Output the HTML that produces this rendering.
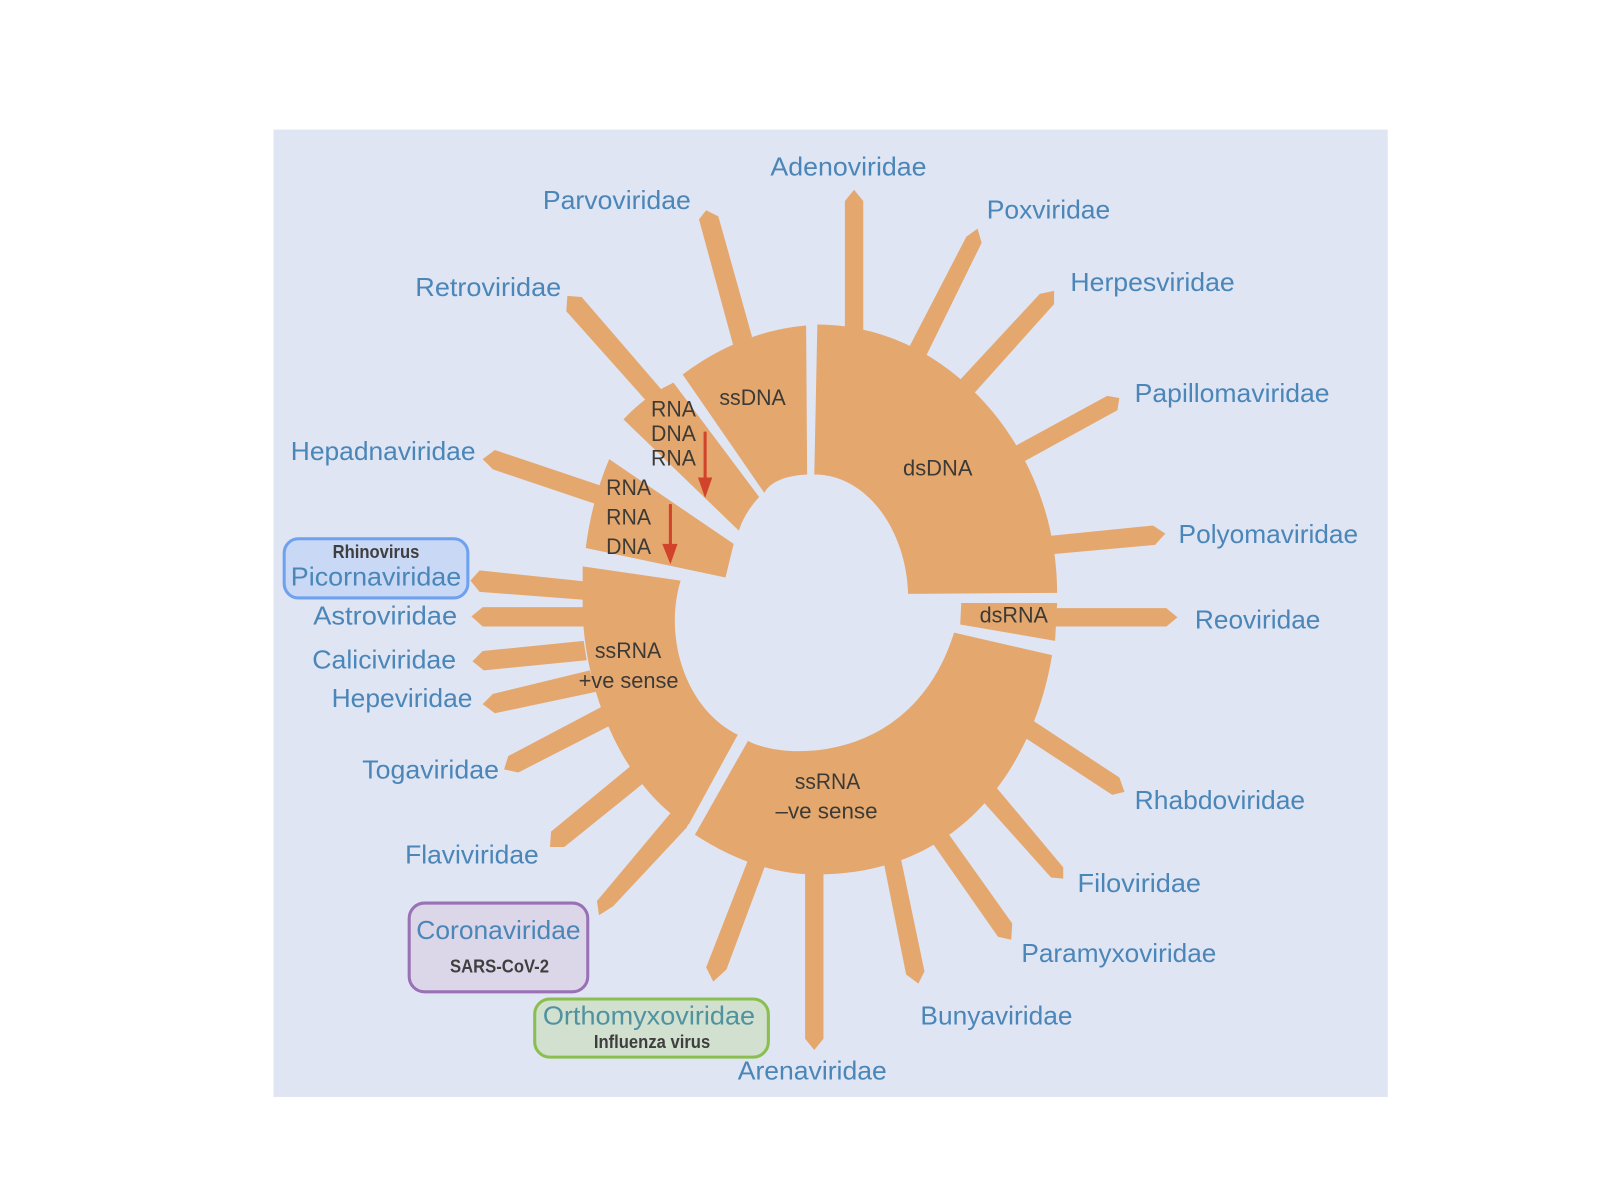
<!DOCTYPE html>
<html lang="en">
<head>
<meta charset="utf-8">
<title>Virus families by genome type</title>
<style>
html,body{margin:0;padding:0;background:#fff;width:1600px;height:1200px;overflow:hidden}
svg{display:block}
text{font-family:"Liberation Sans",sans-serif}
.l{font-size:25px;fill:#4a86b8}
.d{font-size:22px;fill:#3d3a36}
.b{font-size:18px;font-weight:bold;fill:#3f3f3f}
</style>
</head>
<body>
<svg width="1600" height="1200" viewBox="0 0 1568 1176" xmlns="http://www.w3.org/2000/svg">
<rect x="268" y="127" width="1092" height="948" fill="#e0e5f4"/>
<g fill="#e4a86f">
<polygon points="828,330 828,197 837,186 846,197 846,330"/>
<polygon points="719,340 685,215 692,206 704,212 737,330"/>
<polygon points="890,342 947,232 958,224 962,238 907,350"/>
<polygon points="941,372 1019,288 1033,285 1033,298 955,385"/>
<polygon points="995,437 1085,388 1097,390 1095,402 1004,452"/>
<polygon points="1030,525 1130,515 1142,523 1132,534 1032,543"/>
<polygon points="1030,596 1143,596 1154,605 1143,614 1030,614"/>
<polygon points="1012,706 1097,762 1102,776 1090,779 1003,722"/>
<polygon points="975,770 1042,850 1042,861 1030,860 962,784"/>
<polygon points="928,815 992,905 991,921 978,918 913,825"/>
<polygon points="883,842 906,952 900,964 888,955 866,845"/>
<polygon points="789,850 789,1018 798,1029 807,1018 807,850"/>
<polygon points="750,848 712,950 699,962 692,948 733,843"/>
<polygon points="657,797 585,883 587,897 601,888 673,811 680,795"/>
<polygon points="619,750 540,815 539,830 553,830 630,768"/>
<polygon points="589,693 498,741 494,754 508,757 598,711"/>
<polygon points="578,657 483,680 473,690 485,699 584,678"/>
<polygon points="572,628 473,638 463,648 474,657 575,647"/>
<polygon points="575,595 473,595 462,604 473,614 575,614"/>
<polygon points="575,570 470,559 461,569 470,580 575,588"/>
<polygon points="592,477 485,441 473,450 483,460 587,495"/>
<polygon points="651,385 570,291 556,290 555,305 637,397"/>
<path d="M801,318 C930,318 1036,440 1036,581 L890,582 C888,520 850,465 798,465 Z"/>
<path d="M790,319 L791,465 C770,466 755,472 749,483 L669,367 C705,340 745,323 790,319 Z"/>
<path d="M660,375 L744,487 Q730,502 724,520 L611,411 Q632,388 660,375 Z"/>
<path d="M597,450 L719,533 L711,566 L574,537 Q580,490 597,450 Z"/>
<path d="M571,555 L667,569 C650,625 672,695 723,720 L675,808 L657,797 C600,750 570,660 571,590 Z"/>
<path d="M733,726 C770,746 895,748 935,620 L1031,642 C1015,740 950,857 800,857 C755,857 715,840 681,818 Z"/>
<path d="M942,591 L1036,591 L1034,628 L941,612 Z"/>
</g>
<g fill="#d1432a">
<rect x="689.500" y="423" width="3" height="54"/>
<polygon points="684,468 698,468 691,488"/>
<rect x="655.500" y="494" width="3" height="48"/>
<polygon points="649,533 664,533 657,553"/>
</g>
<rect x="278.500" y="528" width="180" height="58" rx="14" fill="#c9d8f4" stroke="#6ea2ef" stroke-width="3"/>
<rect x="401" y="885" width="175" height="87" rx="15" fill="#dcd6e9" stroke="#9a71b5" stroke-width="3"/>
<rect x="524" y="979" width="229" height="57" rx="15" fill="#d1e0cf" stroke="#8abf4f" stroke-width="3"/>
<text class="l" x="755" y="172" textLength="153" lengthAdjust="spacingAndGlyphs">Adenoviridae</text>
<text class="l" x="532" y="205" textLength="145" lengthAdjust="spacingAndGlyphs">Parvoviridae</text>
<text class="l" x="967" y="214" textLength="121" lengthAdjust="spacingAndGlyphs">Poxviridae</text>
<text class="l" x="407" y="290" textLength="143" lengthAdjust="spacingAndGlyphs">Retroviridae</text>
<text class="l" x="1049" y="285" textLength="161" lengthAdjust="spacingAndGlyphs">Herpesviridae</text>
<text class="l" x="1112" y="394" textLength="191" lengthAdjust="spacingAndGlyphs">Papillomaviridae</text>
<text class="l" x="285" y="451" textLength="181" lengthAdjust="spacingAndGlyphs">Hepadnaviridae</text>
<text class="l" x="1155" y="532" textLength="176" lengthAdjust="spacingAndGlyphs">Polyomaviridae</text>
<text class="l" x="285" y="574" textLength="167" lengthAdjust="spacingAndGlyphs">Picornaviridae</text>
<text class="l" x="307" y="612" textLength="141" lengthAdjust="spacingAndGlyphs">Astroviridae</text>
<text class="l" x="1171" y="616" textLength="123" lengthAdjust="spacingAndGlyphs">Reoviridae</text>
<text class="l" x="306" y="655" textLength="141" lengthAdjust="spacingAndGlyphs">Caliciviridae</text>
<text class="l" x="325" y="693" textLength="138" lengthAdjust="spacingAndGlyphs">Hepeviridae</text>
<text class="l" x="355" y="763" textLength="134" lengthAdjust="spacingAndGlyphs">Togaviridae</text>
<text class="l" x="1112" y="793" textLength="167" lengthAdjust="spacingAndGlyphs">Rhabdoviridae</text>
<text class="l" x="397" y="846" textLength="131" lengthAdjust="spacingAndGlyphs">Flaviviridae</text>
<text class="l" x="1056" y="874" textLength="121" lengthAdjust="spacingAndGlyphs">Filoviridae</text>
<text class="l" x="408" y="920" textLength="161" lengthAdjust="spacingAndGlyphs">Coronaviridae</text>
<text class="l" x="1001" y="943" textLength="191" lengthAdjust="spacingAndGlyphs">Paramyxoviridae</text>
<text class="l" x="902" y="1004" textLength="149" lengthAdjust="spacingAndGlyphs">Bunyaviridae</text>
<text class="l" x="532" y="1004" textLength="208" lengthAdjust="spacingAndGlyphs" style="fill:#4f93a0">Orthomyxoviridae</text>
<text class="l" x="723" y="1058" textLength="146" lengthAdjust="spacingAndGlyphs">Arenaviridae</text>
<text class="b" x="326" y="547" textLength="85" lengthAdjust="spacingAndGlyphs">Rhinovirus</text>
<text class="b" x="441" y="953" textLength="97" lengthAdjust="spacingAndGlyphs">SARS-CoV-2</text>
<text class="b" x="582" y="1027" textLength="114" lengthAdjust="spacingAndGlyphs">Influenza virus</text>
<text class="d" x="705" y="397" textLength="65" lengthAdjust="spacingAndGlyphs">ssDNA</text>
<text class="d" x="885" y="466" textLength="68" lengthAdjust="spacingAndGlyphs">dsDNA</text>
<text class="d" x="960" y="610" textLength="67" lengthAdjust="spacingAndGlyphs">dsRNA</text>
<text class="d" x="638" y="408" textLength="44" lengthAdjust="spacingAndGlyphs">RNA</text>
<text class="d" x="638" y="432" textLength="44" lengthAdjust="spacingAndGlyphs">DNA</text>
<text class="d" x="638" y="456" textLength="44" lengthAdjust="spacingAndGlyphs">RNA</text>
<text class="d" x="594" y="485" textLength="44" lengthAdjust="spacingAndGlyphs">RNA</text>
<text class="d" x="594" y="514" textLength="44" lengthAdjust="spacingAndGlyphs">RNA</text>
<text class="d" x="594" y="543" textLength="44" lengthAdjust="spacingAndGlyphs">DNA</text>
<text class="d" x="583" y="645" textLength="65" lengthAdjust="spacingAndGlyphs">ssRNA</text>
<text class="d" x="567" y="674" textLength="98" lengthAdjust="spacingAndGlyphs">+ve sense</text>
<text class="d" x="779" y="773" textLength="64" lengthAdjust="spacingAndGlyphs">ssRNA</text>
<text class="d" x="760" y="802" textLength="100" lengthAdjust="spacingAndGlyphs">–ve sense</text>
</svg>
</body>
</html>
